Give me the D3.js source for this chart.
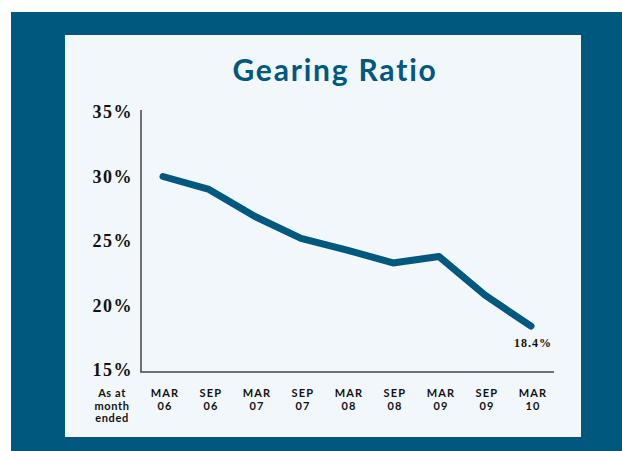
<!DOCTYPE html>
<html>
<head>
<meta charset="utf-8">
<script src="https://cdn.jsdelivr.net/npm/d3@7"></script>
<style>
  body { margin: 0; background: #fff; }
  svg { display: block; }
</style>
</head>
<body>
<svg></svg>
<script>
const periods = ["MAR 06", "SEP 06", "MAR 07", "SEP 07", "MAR 08", "SEP 08", "MAR 09", "SEP 09", "MAR 10"];
const gearing = [30.0, 29.0, 26.9, 25.2, 24.3, 23.3, 23.8, 20.8, 18.4];
const yTicks = [15, 20, 25, 30, 35];
const lastLabel = "18.4%";

const width = 622, height = 451;
const blue = "#00587f";

const svg = d3.select("svg")
    .attr("width", width)
    .attr("height", height);

// frame + panel
svg.append("rect").attr("x", 11).attr("y", 12).attr("width", width - 11).attr("height", height - 12).attr("fill", blue);
svg.append("rect").attr("x", 65).attr("y", 35).attr("width", 516).attr("height", 402).attr("fill", "#f2f7fc");

svg.append("text")
    .attr("x", 335).attr("y", 81)
    .attr("text-anchor", "middle")
    .style("font-family", "Lato, 'Open Sans', sans-serif")
    .style("font-weight", "bold")
    .style("font-size", "30px")
    .style("letter-spacing", "1.8px")
    .style("fill", blue)
    .text("Gearing Ratio");

const x = d3.scalePoint()
    .domain(periods)
    .range([163, 531]);

const y = d3.scaleLinear()
    .domain([15, 35])
    .range([370, 112]);

// axes lines
svg.append("line")
    .attr("x1", 141).attr("x2", 141).attr("y1", 110).attr("y2", y(15) + 2)
    .attr("stroke", "#444").attr("stroke-width", 1.5);
svg.append("line")
    .attr("x1", 140.25).attr("x2", 554).attr("y1", y(15) + 2).attr("y2", y(15) + 2)
    .attr("stroke", "#444").attr("stroke-width", 1.5);

svg.selectAll(".ytick")
    .data(yTicks)
    .enter()
    .append("text")
    .attr("class", "ytick")
    .attr("x", 133)
    .attr("y", d => y(d) + 6)
    .attr("text-anchor", "end")
    .style("font-family", "'Liberation Serif', serif")
    .style("font-weight", "bold")
    .style("font-size", "18px")
    .style("letter-spacing", "1.5px")
    .style("fill", "#111")
    .text(d => d + "%");

// x labels, two lines each
const lab = (txt, cx, cy, ls) => svg.append("text")
    .attr("x", cx).attr("y", cy)
    .attr("text-anchor", "middle")
    .style("font-family", "Lato, sans-serif")
    .style("font-weight", "bold")
    .style("font-size", "11px")
    .style("letter-spacing", ls)
    .style("fill", "#111")
    .text(txt);

periods.forEach(p => {
    const [m, yr] = p.split(" ");
    lab(m, x(p) + 2, 397, "1.2px");
    lab(yr, x(p) + 2, 409.5, "1.2px");
});
["As at", "month", "ended"].forEach((t, i) => lab(t, 112, 397 + i * 12.5, "0.6px"));

const line = d3.line()
    .x((d, i) => x(periods[i]))
    .y(d => y(d));

svg.append("path")
    .datum(gearing)
    .attr("d", line)
    .attr("fill", "none")
    .attr("stroke", blue)
    .attr("stroke-width", 7)
    .attr("stroke-linecap", "round")
    .attr("stroke-linejoin", "round");

svg.append("text")
    .attr("x", x(periods[periods.length - 1]) + 2)
    .attr("y", y(gearing[gearing.length - 1]) + 21)
    .attr("text-anchor", "middle")
    .style("font-family", "'Liberation Serif', serif")
    .style("font-weight", "bold")
    .style("font-size", "12px")
    .style("letter-spacing", "1px")
    .style("fill", "#111")
    .text(lastLabel);
</script>
</body>
</html>
